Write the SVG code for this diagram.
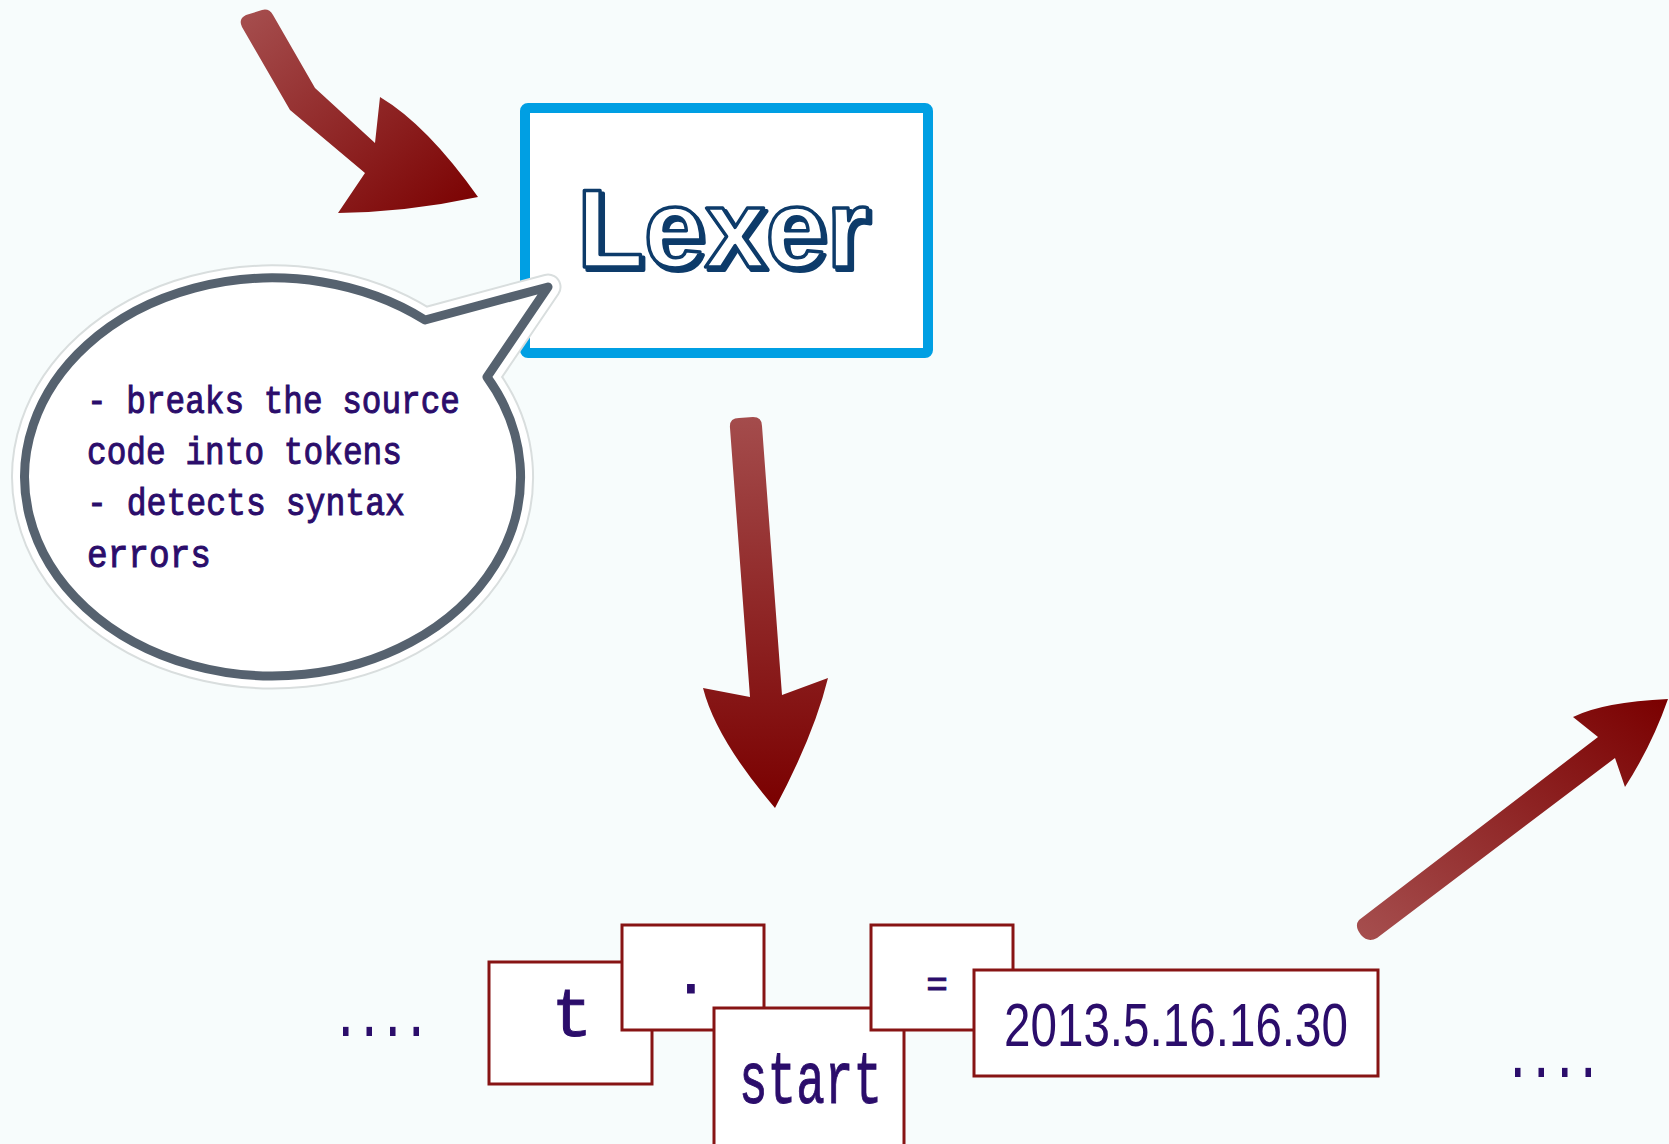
<svg xmlns="http://www.w3.org/2000/svg" width="1669" height="1144" viewBox="0 0 1669 1144">
  <defs>
    <linearGradient id="gradDiag" x1="0" y1="0" x2="1" y2="1">
      <stop offset="0" stop-color="#a64f4f"/>
      <stop offset="1" stop-color="#7a0000"/>
    </linearGradient>
    <linearGradient id="gradDown" x1="0" y1="0" x2="0" y2="1">
      <stop offset="0" stop-color="#a44c4c"/>
      <stop offset="1" stop-color="#7a0000"/>
    </linearGradient>
    <linearGradient id="gradUp" x1="0" y1="1" x2="1" y2="0">
      <stop offset="0" stop-color="#a64f4f"/>
      <stop offset="1" stop-color="#7a0000"/>
    </linearGradient>
  </defs>
  <style>
    .bg { fill: #f7fcfc; }
    .lexer-box { fill: #ffffff; stroke: #009fe3; stroke-width: 10; }
    .lexer-shadow { font-family: "Liberation Sans", "DejaVu Sans", sans-serif; font-weight: bold; font-size: 112px; fill: #0d3b6a; stroke: #0d3b6a; stroke-width: 4; stroke-linejoin: round; }
    .lexer-label { font-family: "Liberation Sans", "DejaVu Sans", sans-serif; font-weight: bold; font-size: 112px; fill: #ffffff; stroke: #0d3b6a; stroke-width: 3.5; stroke-linejoin: round; }
    .bubble-halo { fill: none; stroke: #d9dede; stroke-width: 27; stroke-linejoin: round; }
    .bubble-gap { fill: #ffffff; stroke: #ffffff; stroke-width: 23; stroke-linejoin: round; }
    .bubble { fill: #ffffff; stroke: #56626f; stroke-width: 9; stroke-linejoin: round; }
    .note { font-family: "Liberation Mono", "DejaVu Sans Mono", monospace; font-size: 39px; fill: #2b0d6b; stroke: #2b0d6b; stroke-width: 1; }
    .token { fill: #ffffff; stroke: #871414; stroke-width: 3; }
    .tok-text { font-family: "Liberation Mono", "DejaVu Sans Mono", monospace; fill: #2b0d6b; stroke: #2b0d6b; stroke-width: 1; }
    .tok-num { font-family: "Liberation Sans", "DejaVu Sans", sans-serif; font-size: 62px; fill: #2b0d6b; }
    .ellipsis { font-family: "Liberation Mono", "DejaVu Sans Mono", monospace; font-size: 62px; font-weight: bold; fill: #2b0d6b; }
  </style>

  <rect class="bg" x="0" y="0" width="1669" height="1144"/>

  <!-- flow arrows -->
  <g id="connectors">
    <path id="arrow-in" fill="url(#gradDiag)" d="M 375 143 L 380 97 Q 427 125 478 197 Q 408 212 338 213 L 365 173 L 290 110 L 242 27 Q 238 19 246 15 L 262 10 Q 269 8 273 15 L 315 88 Z"/>
    <path id="arrow-down" fill="url(#gradDown)" d="M 730 428 Q 729 418 739 418 L 753 417 Q 762 417 762 426 L 782 695 L 828 678 Q 814 735 775 808 Q 716 739 703 688 L 750 697 Z"/>
    <path id="arrow-out" fill="url(#gradUp)" d="M 1359 920 L 1598 737 L 1573 717 Q 1603 702 1668 699 Q 1652 745 1625 787 L 1615 758 L 1377 938 Q 1368 943 1361 935 Q 1354 926 1359 920 Z"/>
  </g>

  <!-- lexer stage -->
  <g id="lexer">
    <rect class="lexer-box" x="525" y="108" width="403" height="245" rx="3"/>
    <text class="lexer-shadow" x="580" y="270" textLength="292" lengthAdjust="spacingAndGlyphs">Lexer</text>
    <text class="lexer-label" x="577" y="267" textLength="292" lengthAdjust="spacingAndGlyphs">Lexer</text>
  </g>

  <!-- note bubble -->
  <g id="lexer-note">
    <path class="bubble-halo" d="M 425 320 L 548 287 L 487 377 A 248 199 0 1 1 425 320 Z"/>
    <path class="bubble-gap" d="M 425 320 L 548 287 L 487 377 A 248 199 0 1 1 425 320 Z"/>
    <path class="bubble" d="M 425 320 L 548 287 L 487 377 A 248 199 0 1 1 425 320 Z"/>
    <text class="note" x="87" y="413" textLength="373" lengthAdjust="spacingAndGlyphs">- breaks the source</text>
    <text class="note" x="87" y="464" textLength="315" lengthAdjust="spacingAndGlyphs">code into tokens</text>
    <text class="note" x="87" y="515" textLength="318" lengthAdjust="spacingAndGlyphs">- detects syntax</text>
    <text class="note" x="87" y="567" textLength="124" lengthAdjust="spacingAndGlyphs">errors</text>
  </g>

  <!-- token stream -->
  <g id="ellipsis-left">
    <text class="ellipsis" x="334" y="1036" textLength="94" lengthAdjust="spacingAndGlyphs">....</text>
  </g>
  <g id="token-t">
    <rect class="token" x="489" y="962" width="163" height="122"/>
    <text class="tok-text" x="572" y="1036" font-size="68" text-anchor="middle">t</text>
  </g>
  <g id="token-dot">
    <rect class="token" x="622" y="925" width="142" height="105"/>
    <text class="tok-text" x="691" y="993" font-size="58" text-anchor="middle">.</text>
  </g>
  <g id="token-start">
    <rect class="token" x="714" y="1008" width="190" height="150"/>
    <text class="tok-text" x="739" y="1103" font-size="74" textLength="143" lengthAdjust="spacingAndGlyphs">start</text>
  </g>
  <g id="token-eq">
    <rect class="token" x="871" y="925" width="142" height="105"/>
    <text class="tok-text" x="937" y="996" font-size="36" text-anchor="middle">=</text>
  </g>
  <g id="token-number">
    <rect class="token" x="974" y="970" width="404" height="106"/>
    <text class="tok-num" x="1004" y="1046" textLength="344" lengthAdjust="spacingAndGlyphs">2013.5.16.16.30</text>
  </g>
  <g id="ellipsis-right">
    <text class="ellipsis" x="1506" y="1077" textLength="94" lengthAdjust="spacingAndGlyphs">....</text>
  </g>
</svg>
